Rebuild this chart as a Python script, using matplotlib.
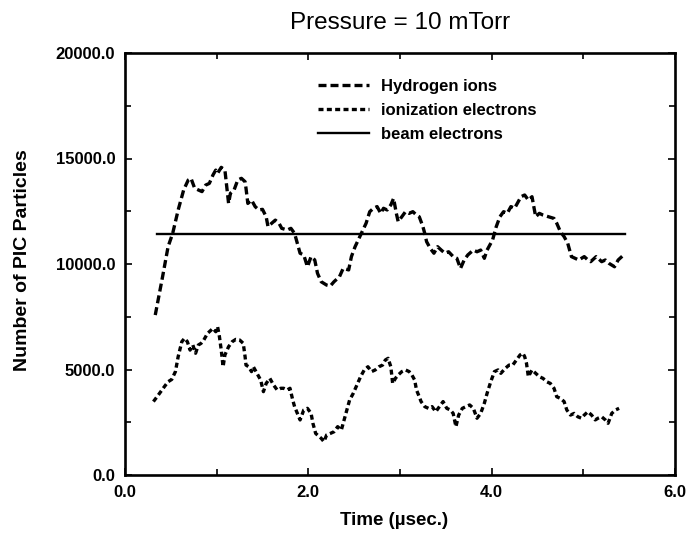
import matplotlib
matplotlib.use("Agg")
import matplotlib.pyplot as plt
from matplotlib.ticker import MultipleLocator, FormatStrFormatter

plt.rcParams['font.family'] = ['Liberation Sans', 'DejaVu Sans']

# Hydrogen ions
h_t = [0.33, 0.41, 0.47, 0.52, 0.58, 0.64, 0.69, 0.72, 0.76, 0.80, 0.84, 0.88, 0.92, 0.96,
       0.99, 1.01, 1.05, 1.09, 1.11, 1.13, 1.15, 1.19, 1.23, 1.27, 1.31, 1.32, 1.34, 1.38,
       1.42, 1.46, 1.50, 1.54, 1.56, 1.60, 1.64, 1.68, 1.71, 1.77, 1.81, 1.85, 1.87, 1.91,
       1.95, 1.99, 2.03, 2.07, 2.10, 2.14, 2.20, 2.24, 2.28, 2.34, 2.38, 2.44, 2.47, 2.51,
       2.57, 2.63, 2.67, 2.71, 2.75, 2.79, 2.82, 2.86, 2.90, 2.93, 2.96, 2.98, 3.02, 3.06,
       3.10, 3.14, 3.18, 3.21, 3.25, 3.27, 3.29, 3.33, 3.37, 3.41, 3.45, 3.49, 3.53, 3.58,
       3.62, 3.66, 3.70, 3.74, 3.80, 3.84, 3.88, 3.92, 3.95, 4.01, 4.05, 4.09, 4.13, 4.17,
       4.21, 4.25, 4.29, 4.32, 4.36, 4.40, 4.44, 4.46, 4.48, 4.52, 4.56, 4.62, 4.68, 4.71,
       4.75, 4.79, 4.83, 4.87, 4.91, 4.95, 5.01, 5.05, 5.08, 5.14, 5.20, 5.24, 5.28, 5.34,
       5.38, 5.42, 5.44]
h_n = [7580, 9400, 10820, 11450, 12560, 13510, 13980, 14060, 13590, 13510, 13430, 13740,
       13820, 14220, 14450, 14300, 14580, 14450, 13660, 12870, 13350, 13510, 13980, 14060,
       13900, 13590, 12870, 13030, 12720, 12560, 12590, 12240, 11770, 11930, 12080, 11930,
       11690, 11610, 11690, 11450, 11140, 10510, 10430, 9870, 10350, 10190, 9560, 9160,
       9000, 8960, 9160, 9400, 9790, 9720, 10350, 10820, 11370, 11930, 12480, 12640, 12720,
       12400, 12640, 12560, 12800, 13110, 12400, 12010, 12240, 12480, 12400, 12480, 12320,
       12240, 11770, 11450, 11060, 10740, 10510, 10820, 10660, 10510, 10580, 10350, 10270,
       9790, 10190, 10430, 10660, 10580, 10660, 10270, 10660, 11140, 11770, 12240, 12480,
       12400, 12720, 12640, 12950, 13190, 13270, 13030, 13190, 12720, 12240, 12400, 12320,
       12240, 12160, 11930, 11530, 11300, 10980, 10350, 10270, 10190, 10350, 10190, 10110,
       10350, 10110, 10190, 10030, 9870, 10190, 10350, 10430]

# Ionization electrons
e_t = [0.31, 0.35, 0.39, 0.43, 0.47, 0.51, 0.55, 0.58, 0.62, 0.65, 0.68, 0.71, 0.74, 0.77,
       0.80, 0.83, 0.86, 0.90, 0.94, 0.96, 0.99, 1.01, 1.03, 1.05, 1.07, 1.09, 1.13, 1.17,
       1.21, 1.25, 1.29, 1.31, 1.32, 1.35, 1.38, 1.40, 1.44, 1.48, 1.51, 1.54, 1.58, 1.62,
       1.66, 1.70, 1.73, 1.77, 1.80, 1.83, 1.85, 1.88, 1.91, 1.95, 1.99, 2.03, 2.05, 2.08,
       2.12, 2.14, 2.17, 2.20, 2.24, 2.28, 2.32, 2.36, 2.38, 2.42, 2.45, 2.49, 2.53, 2.57,
       2.61, 2.65, 2.69, 2.73, 2.77, 2.81, 2.84, 2.87, 2.90, 2.92, 2.95, 2.98, 3.02, 3.06,
       3.10, 3.13, 3.16, 3.18, 3.21, 3.23, 3.27, 3.31, 3.35, 3.39, 3.43, 3.47, 3.51, 3.55,
       3.58, 3.61, 3.64, 3.68, 3.72, 3.76, 3.80, 3.84, 3.88, 3.92, 3.95, 3.99, 4.03, 4.07,
       4.10, 4.15, 4.19, 4.23, 4.27, 4.31, 4.34, 4.36, 4.38, 4.40, 4.44, 4.48, 4.52, 4.56,
       4.60, 4.64, 4.68, 4.71, 4.75, 4.79, 4.82, 4.86, 4.90, 4.94, 4.98, 5.01, 5.05, 5.09,
       5.13, 5.16, 5.20, 5.24, 5.27, 5.31, 5.35, 5.39]
e_n = [3480, 3710, 3950, 4190, 4420, 4530, 4900, 5610, 6320, 6480, 6320, 5920, 6160, 5770,
       6160, 6240, 6400, 6710, 6870, 6950, 6790, 7030, 6560, 5920, 5130, 5690, 6080, 6320,
       6430, 6400, 6240, 5610, 5210, 5130, 4900, 5130, 4820, 4500, 3950, 4340, 4580, 4270,
       4030, 4110, 4110, 4030, 4110, 3550, 3240, 2920, 2610, 3080, 3160, 2920, 2450, 1970,
       1820, 1740, 1580, 1900, 1970, 2050, 2290, 2130, 2450, 3080, 3550, 3870, 4270, 4660,
       4980, 5130, 4900, 4980, 5130, 5210, 5450, 5530, 5130, 4340, 4580, 4740, 4900, 4980,
       4900, 4740, 4500, 4030, 3710, 3480, 3240, 3160, 3240, 3000, 3240, 3480, 3160, 3080,
       2920, 2290, 2840, 3160, 3240, 3320, 3160, 2690, 2920, 3400, 3870, 4420, 4900, 4980,
       4820, 5060, 5210, 5210, 5450, 5690, 5770, 5610, 5290, 4660, 4980, 4820, 4660, 4580,
       4420, 4340, 4110, 3710, 3630, 3480, 3080, 2840, 2920, 2760, 2690, 2840, 3000, 2840,
       2610, 2690, 2760, 2610, 2450, 2920, 3080, 3160]

# Beam electrons
b_t = [0.35, 5.45]
b_n = [11400, 11400]

fig = plt.figure(figsize=(6.88, 5.35), dpi=100)
ax = fig.add_axes([125/688, 1-475/535, 550/688, 422/535])

ax.plot(h_t, h_n, color='black', lw=2.4, dashes=(2.4, 1.2), label='Hydrogen ions')
ax.plot(e_t, e_n, color='black', lw=2.4, dashes=(1.5, 1.0), label='ionization electrons')
ax.plot(b_t, b_n, color='black', lw=1.7, label='beam electrons')

ax.set_xlim(0, 6)
ax.set_ylim(0, 20000)
ax.xaxis.set_major_locator(MultipleLocator(2))
ax.xaxis.set_minor_locator(MultipleLocator(1))
ax.yaxis.set_major_locator(MultipleLocator(5000))
ax.yaxis.set_minor_locator(MultipleLocator(2500))
ax.xaxis.set_major_formatter(FormatStrFormatter('%.1f'))
ax.yaxis.set_major_formatter(FormatStrFormatter('%.1f'))
ax.tick_params(which='both', direction='in', top=True, right=True, width=1.2,
               labelsize=12)
ax.tick_params(which='major', length=5, pad=7)
ax.tick_params(which='minor', length=4)
for lab in ax.get_xticklabels() + ax.get_yticklabels():
    lab.set_fontweight('bold')
for s in ax.spines.values():
    s.set_linewidth(1.9)

ax.set_title('Pressure = 10 mTorr', fontsize=17.5, pad=17)
ax.set_xlabel('Time (\u00b5sec.)', fontsize=13.5, fontweight='bold')
ax.set_ylabel('Number of PIC Particles', fontsize=14, fontweight='bold')
ax.xaxis.set_label_coords(0.49, -0.107)
ax.xaxis.label.set_va('center')
ax.yaxis.set_label_coords(-0.187, 0.51)
ax.yaxis.label.set_va('center')

ax.legend(loc='upper left', bbox_to_anchor=(0.324, 0.974), frameon=False,
          prop={'size': 12, 'weight': 'bold'}, handlelength=3.05,
          handletextpad=0.72, labelspacing=0.55)

fig.savefig('out.png', dpi=100)
